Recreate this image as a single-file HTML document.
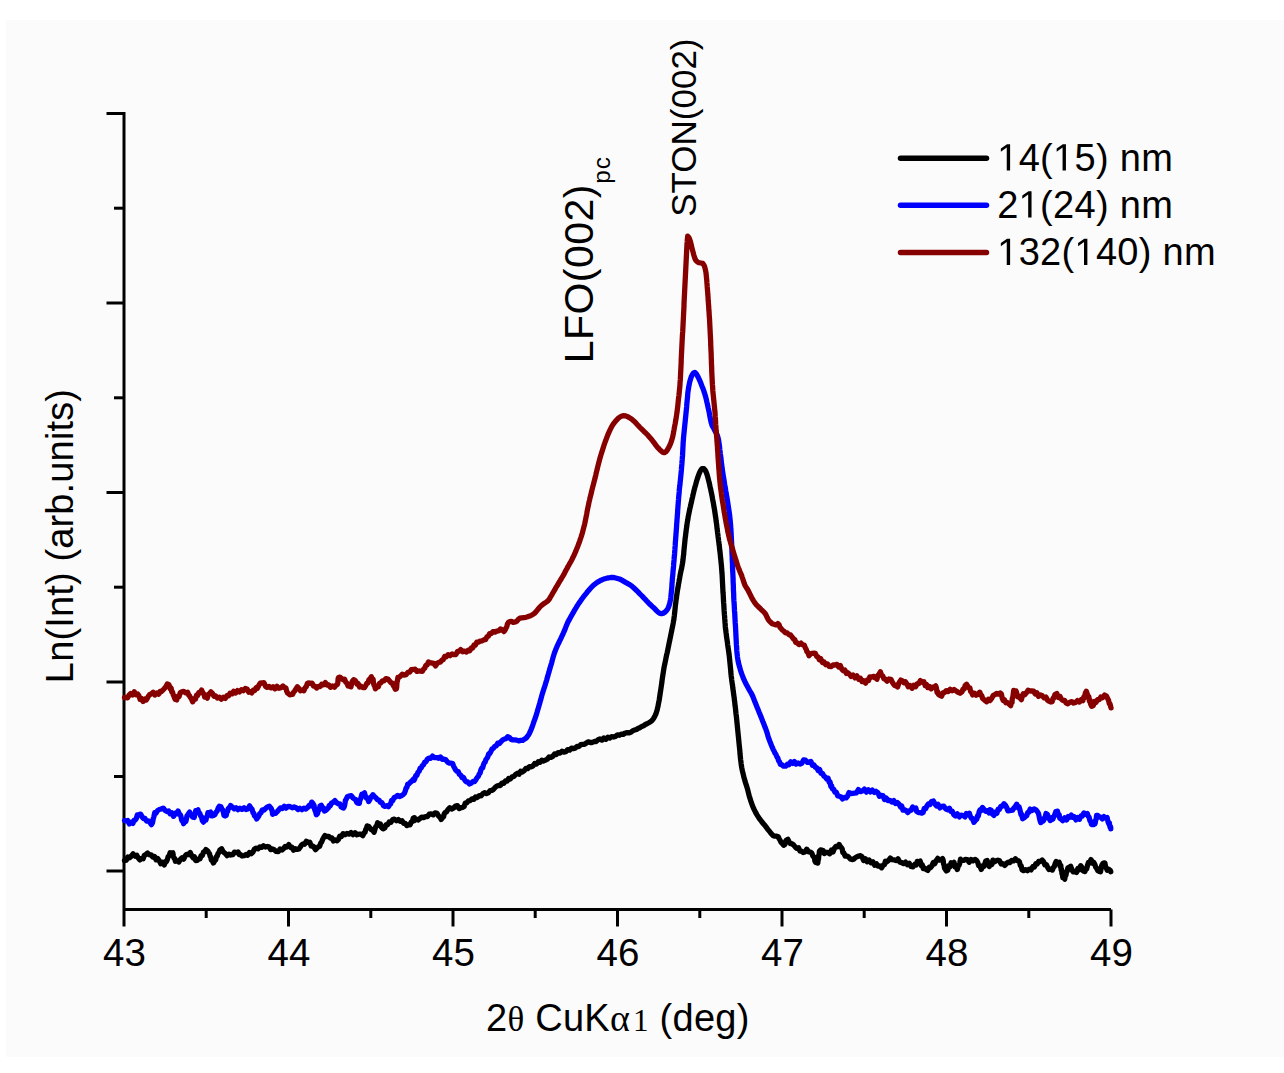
<!DOCTYPE html>
<html><head><meta charset="utf-8"><style>
html,body{margin:0;padding:0;background:#fff;}
svg{display:block;}
text{font-family:"Liberation Sans", sans-serif;fill:#000;}
.serif{font-family:"Liberation Serif", serif;}
</style></head><body>
<svg width="1284" height="1073" viewBox="0 0 1284 1073">
<rect width="1284" height="1073" fill="#fff"/>
<rect x="6" y="20" width="1278" height="1037" fill="#fcfbfb"/>
<g stroke="#000" stroke-width="3" fill="none" stroke-linecap="butt">
<path d="M124,112 L124,926.5 M124,909.5 L1111,909.5" stroke-linejoin="miter"/>
<line x1="106.5" y1="113.5" x2="124.0" y2="113.5" />
<line x1="114" y1="208.2" x2="124.0" y2="208.2" />
<line x1="106.5" y1="303.0" x2="124.0" y2="303.0" />
<line x1="114" y1="397.8" x2="124.0" y2="397.8" />
<line x1="106.5" y1="492.5" x2="124.0" y2="492.5" />
<line x1="114" y1="587.2" x2="124.0" y2="587.2" />
<line x1="106.5" y1="682.0" x2="124.0" y2="682.0" />
<line x1="114" y1="776.5" x2="124.0" y2="776.5" />
<line x1="106.5" y1="871.0" x2="124.0" y2="871.0" />
<line x1="206.2" y1="909.5" x2="206.2" y2="918" />
<line x1="288.5" y1="909.5" x2="288.5" y2="926.5" />
<line x1="370.8" y1="909.5" x2="370.8" y2="918" />
<line x1="453.0" y1="909.5" x2="453.0" y2="926.5" />
<line x1="535.2" y1="909.5" x2="535.2" y2="918" />
<line x1="617.5" y1="909.5" x2="617.5" y2="926.5" />
<line x1="699.8" y1="909.5" x2="699.8" y2="918" />
<line x1="782.0" y1="909.5" x2="782.0" y2="926.5" />
<line x1="864.2" y1="909.5" x2="864.2" y2="918" />
<line x1="946.5" y1="909.5" x2="946.5" y2="926.5" />
<line x1="1028.8" y1="909.5" x2="1028.8" y2="918" />
<line x1="1111.0" y1="909.5" x2="1111.0" y2="926.5" />
</g>
<g font-size="38.5">
<text x="124.5" y="965.5" text-anchor="middle">43</text>
<text x="289.0" y="965.5" text-anchor="middle">44</text>
<text x="453.5" y="965.5" text-anchor="middle">45</text>
<text x="618.0" y="965.5" text-anchor="middle">46</text>
<text x="782.5" y="965.5" text-anchor="middle">47</text>
<text x="947.0" y="965.5" text-anchor="middle">48</text>
<text x="1111.5" y="965.5" text-anchor="middle">49</text>
</g>
<text x="486" y="1031" font-size="38" letter-spacing="0.25">2<tspan class="serif" font-size="35">θ</tspan> CuK<tspan class="serif">α</tspan><tspan class="serif" font-size="31" dx="3">1</tspan> (deg)</text>
<text transform="translate(72.5,536) rotate(-90)" font-size="38" text-anchor="middle" letter-spacing="0.15">Ln(Int) (arb.units)</text>
<text transform="translate(593,363.3) rotate(-90)" font-size="41" letter-spacing="0.45">LFO(002)<tspan font-size="24.5" dy="17" dx="0.5" letter-spacing="0.8">pc</tspan></text>
<text transform="translate(696.3,216.8) rotate(-90)" font-size="35">STON(002)</text>
<g fill="none" stroke-width="5.3" stroke-linejoin="round" stroke-linecap="round">
<path d="M124.5,860.6 126.2,860.2 127.8,857.0 129.5,857.8 131.2,856.2 133.1,853.8 135.0,856.2 136.7,855.2 138.2,857.9 139.8,859.9 141.7,858.3 143.2,858.7 144.4,855.2 145.8,854.6 147.6,853.0 149.5,854.9 151.2,854.8 152.9,857.1 154.5,856.4 156.1,859.8 157.7,858.6 159.3,860.8 160.8,863.7 162.4,862.4 164.3,864.9 165.6,861.5 166.5,861.6 167.4,859.4 168.2,856.4 169.1,856.1 170.1,852.7 171.5,853.1 172.8,852.7 173.4,856.2 174.0,858.1 174.6,858.3 175.4,861.3 177.0,860.6 178.9,862.0 180.5,859.3 182.1,857.8 183.7,859.1 185.3,855.7 186.8,854.3 188.4,854.7 190.3,852.5 191.9,856.1 193.2,857.8 194.4,856.9 195.6,860.5 197.3,860.3 198.9,858.8 200.0,858.9 201.1,855.6 202.3,855.6 203.5,852.1 204.6,851.8 205.9,849.5 207.7,851.0 208.7,852.6 209.5,853.8 210.1,856.2 210.7,856.8 211.3,860.1 212.1,860.4 213.4,863.0 214.8,860.7 215.7,859.8 216.5,856.4 217.2,856.3 218.0,853.5 218.8,852.7 219.9,849.9 221.6,848.8 223.1,851.8 224.3,852.8 225.5,853.6 227.1,855.7 229.0,854.2 230.9,855.0 232.7,854.7 234.4,852.1 236.3,852.7 238.1,852.0 239.3,854.5 240.4,854.5 242.1,856.0 244.1,855.7 246.0,854.5 247.8,855.2 249.5,852.5 251.2,853.7 252.8,852.3 254.4,849.1 256.1,848.2 257.9,848.9 259.7,846.9 261.5,847.3 263.4,845.8 265.4,847.0 267.3,846.5 269.0,846.9 270.7,849.6 272.2,848.8 274.2,849.7 276.2,851.4 278.2,851.7 280.2,848.9 282.0,850.0 283.6,848.5 285.2,846.5 286.9,847.0 288.8,844.5 290.6,847.5 292.0,847.1 293.5,850.2 295.3,848.7 297.2,849.4 298.9,849.0 300.3,847.0 301.7,844.8 303.1,843.8 304.6,844.2 306.3,841.3 308.2,842.6 309.8,842.2 311.2,846.1 312.5,845.9 313.8,846.8 315.5,849.7 317.3,847.8 318.6,846.5 319.7,846.3 320.7,843.0 321.6,842.1 322.6,839.5 323.7,837.5 325.0,835.5 326.8,836.5 328.7,836.3 330.3,838.1 331.8,837.8 333.5,841.0 335.4,840.0 337.1,840.8 338.4,839.4 339.7,836.2 341.3,836.6 343.1,833.7 345.0,834.7 347.0,833.4 349.0,834.1 351.0,832.5 353.0,834.6 355.0,832.7 357.0,834.8 358.9,834.2 360.8,834.1 362.8,835.6 364.2,832.8 365.0,832.3 365.7,829.5 366.3,828.8 367.2,825.9 368.8,826.5 370.1,828.2 371.2,829.6 372.4,829.7 374.1,832.2 375.2,828.4 375.9,826.5 376.7,826.0 377.6,822.8 379.2,824.6 380.4,824.0 381.5,827.3 383.1,828.9 384.8,828.0 386.2,824.6 387.6,824.8 389.2,822.0 390.9,822.3 392.6,819.6 394.4,819.2 396.4,820.8 398.4,819.5 400.2,821.3 402.0,820.8 403.8,823.4 405.3,823.4 406.8,825.6 408.7,824.6 410.1,824.8 411.2,822.1 412.3,821.6 413.2,818.2 414.2,818.2 414.3,817.7 414.2,820.6 416.1,819.0 418.0,820.0 419.8,818.7 421.7,817.2 423.6,817.6 425.5,816.6 427.4,816.6 429.3,814.2 431.2,813.9 433.2,814.9 435.1,812.8 437.0,813.3 438.5,816.1 439.8,816.8 441.2,819.5 442.9,817.2 443.6,816.7 444.2,813.9 445.1,812.7 446.4,812.0 448.1,809.4 449.8,807.8 451.6,809.0 453.5,808.1 455.4,806.1 457.4,805.7 459.2,808.6 461.1,807.6 462.8,807.3 464.1,806.5 465.3,803.1 466.8,802.8 468.4,800.9 470.1,800.6 471.9,798.9 473.8,799.4 475.6,796.9 477.4,797.5 479.2,795.7 481.1,795.8 482.9,793.6 484.7,792.7 486.5,793.6 488.3,792.9 490.1,790.6 491.8,790.4 493.5,789.4 495.2,787.3 496.9,786.0 498.6,785.5 500.3,785.5 502.0,783.1 503.7,783.4 505.4,781.0 507.1,781.0 508.7,778.5 510.4,779.0 512.1,776.8 513.8,776.5 515.6,774.5 517.3,773.3 519.0,774.3 520.7,771.3 522.4,772.0 524.2,770.6 525.9,768.4 527.6,768.7 529.4,766.6 531.1,766.8 532.9,766.0 534.7,763.4 536.4,764.1 538.2,761.8 540.0,762.4 541.8,760.1 543.7,761.0 545.5,760.1 547.3,759.2 549.1,757.0 550.9,757.4 552.7,756.4 554.5,754.0 556.3,754.6 558.1,752.6 560.0,753.1 562.0,751.3 563.9,752.1 565.8,751.7 567.7,749.6 569.6,750.1 571.5,748.1 573.4,748.6 575.2,748.2 577.1,746.3 579.0,746.5 580.8,744.7 582.7,744.3 584.5,744.3 586.4,743.0 588.3,741.8 590.3,742.5 592.2,742.5 594.2,741.5 596.1,741.5 598.1,739.8 600.0,739.0 601.9,740.1 603.9,737.9 605.8,739.3 607.8,737.3 609.7,738.1 611.6,736.7 613.6,737.0 615.5,736.4 617.5,734.8 619.4,735.3 621.4,734.1 623.3,734.4 625.2,733.0 627.1,732.7 629.0,732.9 630.9,732.3 632.8,730.7 634.6,730.1 636.5,729.5 638.3,728.3 640.0,727.7 641.8,726.4 643.5,725.8 645.3,724.5 647.0,723.8 648.8,722.8 650.5,721.8 652.0,720.5 653.3,718.9 654.3,717.2 655.2,715.4 656.0,713.6 656.6,711.7 657.2,709.7 657.6,707.8 658.1,705.8 658.4,703.9 658.8,701.9 659.2,700.0 659.5,698.0 659.8,696.0 660.1,694.0 660.4,692.0 660.7,690.1 661.0,688.1 661.3,686.1 661.6,684.1 661.9,682.2 662.1,680.2 662.4,678.2 662.7,676.2 663.0,674.2 663.3,672.3 663.6,670.3 663.9,668.3 664.3,666.3 664.7,664.4 665.1,662.4 665.5,660.5 665.9,658.5 666.3,656.5 666.7,654.6 667.2,652.6 667.6,650.7 668.0,648.7 668.4,646.8 668.8,644.8 669.2,642.8 669.6,640.9 670.0,638.9 670.4,637.0 670.8,635.0 671.2,633.0 671.6,631.1 672.0,629.1 672.4,627.2 672.8,625.2 673.2,623.2 673.5,621.3 673.9,619.3 674.1,617.3 674.4,615.3 674.6,613.3 674.8,611.4 675.0,609.4 675.2,607.4 675.4,605.4 675.7,603.4 675.9,601.4 676.2,599.4 676.5,597.5 676.7,595.5 677.0,593.5 677.3,591.5 677.6,589.5 678.0,587.6 678.3,585.6 678.6,583.6 679.0,581.7 679.3,579.7 679.7,577.7 680.0,575.8 680.4,573.8 680.8,571.8 681.2,569.9 681.7,567.9 682.0,566.0 682.4,564.0 682.7,562.0 683.0,560.0 683.2,558.0 683.4,556.1 683.7,554.1 683.8,552.1 684.0,550.1 684.2,548.1 684.4,546.1 684.6,544.1 684.8,542.1 685.0,540.1 685.2,538.1 685.5,536.2 685.7,534.2 686.0,532.2 686.2,530.2 686.5,528.2 686.8,526.2 687.0,524.3 687.3,522.3 687.7,520.3 688.0,518.3 688.3,516.4 688.7,514.4 689.1,512.4 689.5,510.5 689.9,508.5 690.4,506.6 690.8,504.6 691.3,502.7 691.7,500.7 692.1,498.8 692.6,496.8 693.0,494.9 693.5,492.9 693.9,491.0 694.4,489.1 694.9,487.1 695.5,485.2 696.0,483.3 696.6,481.3 697.1,479.4 697.8,477.5 698.4,475.6 699.1,473.8 699.9,471.9 700.8,470.1 702.0,468.6 703.9,468.7 705.2,470.2 706.1,472.0 706.8,473.9 707.4,475.8 707.9,477.7 708.4,479.7 708.9,481.6 709.4,483.5 709.8,485.5 710.2,487.4 710.7,489.4 711.1,491.4 711.5,493.3 711.9,495.3 712.3,497.2 712.6,499.2 713.0,501.2 713.4,503.1 713.7,505.1 714.0,507.1 714.4,509.1 714.7,511.0 715.0,513.0 715.3,515.0 715.6,517.0 715.9,518.9 716.1,520.9 716.4,522.9 716.7,524.9 716.9,526.9 717.1,528.9 717.4,530.8 717.6,532.8 717.9,534.8 718.1,536.8 718.4,538.8 718.6,540.8 718.9,542.7 719.1,544.7 719.4,546.7 719.6,548.7 719.8,550.7 720.1,552.7 720.3,554.7 720.5,556.7 720.7,558.6 720.9,560.6 721.1,562.6 721.3,564.6 721.5,566.6 721.6,568.6 721.8,570.6 721.9,572.6 722.1,574.6 722.2,576.6 722.3,578.6 722.4,580.6 722.5,582.6 722.6,584.6 722.7,586.6 722.8,588.6 722.9,590.6 723.0,592.6 723.2,594.6 723.3,596.6 723.4,598.5 723.5,600.5 723.6,602.5 723.8,604.5 723.9,606.5 724.0,608.5 724.1,610.5 724.3,612.5 724.4,614.5 724.6,616.5 724.7,618.5 724.9,620.5 725.0,622.5 725.2,624.5 725.3,626.5 725.5,628.5 725.8,630.5 726.0,632.4 726.3,634.4 726.5,636.4 726.8,638.4 727.1,640.4 727.4,642.3 727.6,644.3 727.9,646.3 728.2,648.3 728.5,650.3 728.8,652.3 729.0,654.2 729.3,656.2 729.5,658.2 729.7,660.2 729.9,662.2 730.1,664.2 730.3,666.2 730.5,668.2 730.7,670.1 730.8,672.1 731.0,674.1 731.2,676.1 731.5,678.1 731.7,680.1 732.0,682.1 732.3,684.1 732.6,686.0 732.8,688.0 733.1,690.0 733.4,692.0 733.6,694.0 733.9,695.9 734.2,697.9 734.4,699.9 734.7,701.9 734.9,703.9 735.1,705.9 735.4,707.9 735.6,709.8 735.8,711.8 736.0,713.8 736.3,715.8 736.5,717.8 736.7,719.8 736.9,721.8 737.1,723.8 737.3,725.7 737.5,727.7 737.7,729.7 737.9,731.7 738.1,733.7 738.3,735.7 738.5,737.7 738.7,739.7 738.9,741.7 739.1,743.7 739.3,745.7 739.5,747.6 739.7,749.6 739.9,751.6 740.0,753.6 740.2,755.6 740.4,757.6 740.6,759.6 740.9,761.6 741.1,763.6 741.4,765.5 741.7,767.5 742.1,769.5 742.5,771.4 743.0,773.4 743.5,775.3 743.9,777.3 744.5,779.2 745.0,781.1 745.6,783.0 746.2,784.9 746.8,786.8 747.4,788.7 747.9,790.7 748.4,792.6 748.9,794.6 749.4,796.5 750.0,798.4 750.6,800.3 751.2,802.2 751.9,804.1 752.6,806.0 753.4,807.8 754.2,809.6 755.1,811.4 756.0,813.2 757.0,814.9 758.1,816.6 759.2,818.3 760.4,819.9 761.6,821.5 762.8,823.0 764.1,824.6 765.4,826.1 766.6,827.7 767.8,829.3 769.1,830.9 770.3,832.4 771.6,833.9 773.0,835.5 774.8,836.2 776.7,836.2 778.2,836.8 779.3,839.0 780.2,840.5 781.2,842.5 782.3,843.6 783.7,845.2 784.8,844.5 785.5,841.7 786.2,840.3 787.9,839.3 789.2,842.0 790.4,843.6 791.8,843.7 793.4,844.8 795.2,846.9 796.9,848.4 798.6,847.8 799.9,851.0 801.2,851.0 803.1,852.5 804.9,851.9 806.7,849.2 808.7,851.9 810.5,852.1 811.9,853.3 812.9,856.0 813.6,856.9 814.3,857.0 814.9,861.0 815.7,862.5 816.8,862.8 817.8,863.1 818.2,858.9 818.5,859.3 818.8,855.0 819.1,854.7 819.4,851.1 819.7,850.9 820.5,850.0 822.1,850.2 823.1,850.5 824.3,853.5 825.9,852.5 827.8,852.5 829.7,853.8 831.4,850.1 833.0,851.9 834.5,848.2 835.9,846.4 837.4,846.9 839.1,844.5 840.7,847.1 841.5,847.8 842.2,848.9 842.8,852.6 843.8,852.9 845.2,856.1 846.7,855.9 848.4,856.8 850.2,858.9 852.1,859.6 853.8,859.2 855.3,857.7 856.9,856.8 858.8,856.1 860.5,855.7 862.0,856.7 863.6,860.5 865.3,858.7 867.2,861.8 869.1,860.1 871.0,862.8 872.9,861.8 874.7,865.2 876.5,863.9 878.1,866.2 879.8,865.8 881.7,867.8 883.3,865.0 884.4,864.9 885.4,861.3 886.7,861.8 888.4,860.6 890.3,858.1 892.2,859.7 894.2,859.9 896.2,860.6 898.0,858.8 899.9,862.2 901.7,862.6 903.6,863.6 905.5,862.1 907.4,864.7 909.2,863.2 911.0,866.5 912.9,866.8 914.8,864.3 916.2,864.9 917.2,861.4 918.7,861.9 920.2,861.0 921.3,865.7 922.3,864.9 923.3,868.6 924.4,867.9 926.0,869.5 927.8,870.4 929.2,867.3 930.5,867.8 931.9,865.9 933.4,862.4 934.8,863.7 936.3,860.4 937.7,858.4 939.3,860.1 941.2,859.5 942.5,858.5 943.2,860.5 943.6,864.2 944.0,864.3 944.5,868.0 945.0,868.8 946.3,870.9 947.8,870.1 948.9,865.8 950.0,866.7 951.1,862.8 952.4,863.9 954.0,862.3 954.9,866.8 955.8,866.6 957.3,869.5 958.3,865.9 959.0,865.3 959.7,863.3 960.5,859.2 961.8,860.3 963.7,860.3 965.5,859.4 967.3,859.6 969.2,862.3 971.1,859.5 973.0,860.8 975.0,859.4 976.4,860.2 977.6,862.1 978.7,865.7 979.9,865.9 981.3,869.4 982.9,865.8 983.9,866.3 984.7,864.2 985.7,861.0 987.2,860.5 988.2,864.8 989.2,866.5 990.9,863.9 991.9,864.4 992.9,860.2 994.2,861.8 996.1,860.8 997.9,860.1 999.5,860.8 1001.2,864.0 1002.8,863.6 1004.7,865.5 1006.6,863.2 1008.2,862.1 1009.9,862.6 1011.7,860.5 1013.5,860.9 1015.4,858.8 1017.3,860.7 1018.6,860.9 1019.5,862.0 1020.3,865.4 1021.1,865.7 1022.1,870.0 1023.5,870.7 1025.4,869.7 1027.4,870.7 1029.3,869.1 1031.1,869.9 1032.8,866.6 1034.4,867.1 1035.8,863.7 1037.2,864.0 1038.6,861.5 1040.2,861.5 1042.1,860.0 1043.6,861.7 1044.9,864.9 1046.4,864.6 1047.7,867.5 1049.0,869.5 1050.5,869.2 1052.3,870.1 1053.5,867.3 1054.3,866.6 1055.2,863.6 1056.1,861.5 1057.8,863.1 1059.2,862.3 1060.1,866.5 1060.8,865.5 1061.2,870.2 1061.6,869.4 1062.0,874.0 1062.3,873.7 1062.8,877.7 1063.4,877.1 1064.7,879.2 1065.4,875.3 1066.0,875.0 1066.6,871.4 1067.2,871.2 1067.9,867.7 1069.0,867.4 1070.7,866.3 1072.0,870.0 1073.2,871.9 1074.7,871.5 1076.5,872.5 1077.9,868.4 1079.2,869.8 1080.7,865.7 1082.0,867.3 1082.6,869.4 1083.4,871.0 1084.9,871.6 1085.8,868.7 1086.7,868.9 1087.5,865.4 1088.4,862.5 1089.5,863.1 1091.0,859.6 1092.6,863.2 1093.8,862.6 1094.8,864.4 1095.8,867.3 1096.7,868.3 1097.8,870.7 1099.2,871.4 1100.5,871.8 1101.2,868.2 1101.7,865.5 1102.1,866.4 1102.7,863.7 1103.9,862.8 1104.9,863.1 1105.7,867.0 1106.4,868.3 1107.2,870.2 1108.6,869.2 1110.5,870.6 1110.8,871.8" stroke="#000"/>
<path d="M124.5,820.6 126.1,820.8 127.6,820.5 129.3,823.9 131.2,822.3 132.9,823.4 134.1,820.1 135.1,820.3 136.2,818.8 137.3,815.0 138.8,814.8 140.7,814.1 142.1,817.0 143.5,818.6 145.0,818.5 146.5,821.0 148.0,820.8 149.6,821.9 151.5,824.6 152.5,822.7 152.9,820.8 153.3,818.4 153.8,817.1 154.7,812.8 156.0,813.3 157.6,810.5 159.4,809.5 161.2,809.0 163.2,808.1 165.2,810.4 167.0,811.5 168.6,811.0 170.1,813.8 171.7,812.7 173.5,816.3 175.3,813.2 176.5,813.8 178.1,811.1 179.4,814.2 180.2,814.6 180.9,816.3 181.7,820.3 182.5,819.7 183.5,823.7 185.0,821.7 185.8,821.4 186.4,819.3 187.0,815.8 187.5,815.6 188.2,814.0 189.7,812.0 190.8,814.4 191.7,815.4 192.7,817.2 194.2,817.5 194.7,814.2 195.2,813.8 195.7,810.7 196.5,811.0 198.0,809.9 198.9,812.9 199.8,813.4 200.6,815.9 201.4,816.4 202.3,820.5 203.4,822.1 205.0,820.2 205.9,820.2 206.6,816.9 207.2,816.6 207.9,812.7 209.2,813.0 210.6,812.1 211.8,815.9 213.6,815.4 214.9,814.6 216.0,812.2 217.1,811.2 218.1,808.3 219.4,806.3 221.0,806.8 222.0,809.5 222.7,810.0 223.3,811.8 224.0,815.4 225.1,816.0 226.2,815.4 226.9,811.9 227.6,811.4 228.2,808.6 229.1,808.1 230.6,805.6 232.5,807.2 234.2,808.9 236.1,807.8 238.0,809.7 240.0,808.2 242.0,809.4 244.0,807.8 246.0,809.5 247.9,808.9 249.6,805.8 251.1,808.3 252.1,809.4 253.0,812.7 253.7,813.1 254.5,815.9 255.4,816.5 256.7,818.9 258.2,816.9 259.0,815.4 259.8,813.5 260.9,812.9 262.3,809.9 264.0,810.1 265.7,808.3 267.5,806.9 269.3,806.1 271.2,808.4 271.8,810.3 272.2,810.7 272.6,814.3 274.3,812.7 275.7,813.3 277.1,811.8 278.6,810.0 280.4,807.9 282.3,808.6 284.3,806.2 286.2,808.1 288.2,806.3 290.2,806.7 292.2,807.8 294.1,806.9 296.0,807.7 298.0,809.6 299.9,808.3 301.9,809.7 303.9,808.2 305.8,809.1 307.6,807.5 309.4,805.3 310.8,805.9 311.7,802.1 313.0,803.5 313.7,805.0 314.1,805.5 314.5,808.9 315.0,810.5 315.5,811.3 316.3,814.7 317.6,813.5 318.4,809.6 319.2,809.9 320.0,806.1 321.3,805.3 322.6,807.8 323.4,807.9 324.4,811.0 326.0,810.3 327.3,808.9 328.4,807.8 329.3,805.4 330.3,805.7 331.4,803.2 332.9,802.5 334.9,800.6 336.7,802.7 338.3,803.8 339.9,804.0 341.1,807.0 342.1,807.5 343.5,808.0 344.1,807.1 344.6,805.3 345.0,803.2 345.5,800.0 346.1,799.4 347.3,796.8 349.2,796.1 351.2,795.6 353.1,798.0 354.7,799.3 355.7,799.6 356.7,802.4 357.9,803.1 359.3,803.4 360.0,799.7 360.6,799.1 361.2,797.1 361.9,794.1 362.9,794.1 364.5,792.9 365.5,796.4 366.5,798.2 367.5,798.1 368.6,801.5 370.0,799.3 370.7,797.2 371.4,796.8 372.9,794.7 374.6,796.8 376.1,798.1 377.5,799.7 378.9,800.0 380.4,802.4 381.9,802.6 383.4,805.6 384.9,806.4 386.7,805.7 388.5,806.7 389.8,804.5 390.7,803.7 391.6,800.4 392.7,800.6 394.1,797.7 395.8,796.8 397.6,795.4 399.5,796.5 401.3,795.8 403.0,794.8 404.4,793.3 405.3,791.1 406.1,788.0 406.9,787.5 407.7,784.1 408.7,784.1 410.2,782.4 411.8,781.1 413.4,779.1 414.0,780.3 414.8,778.7 415.9,775.4 416.9,775.3 418.0,772.2 419.1,771.3 420.1,768.3 421.2,768.0 422.3,765.6 423.5,764.8 424.6,762.3 425.9,761.9 427.3,759.2 428.8,758.2 430.6,758.4 432.5,756.1 434.5,757.6 436.5,757.6 438.5,758.3 440.4,757.0 442.3,759.3 444.1,759.1 445.8,759.8 447.6,762.1 449.5,763.2 451.4,763.2 452.6,763.5 453.6,766.2 454.6,768.0 455.7,770.1 456.9,771.2 458.2,771.6 459.4,774.3 460.8,775.2 462.1,777.7 463.5,777.5 464.8,780.2 466.2,781.8 467.7,782.0 469.5,784.1 471.5,782.9 473.1,781.3 474.6,781.6 475.9,779.7 477.2,777.5 478.3,776.4 479.2,774.1 480.1,773.0 480.9,769.8 481.7,768.1 482.6,768.0 483.4,765.0 484.3,762.8 485.1,762.1 486.0,759.3 486.8,758.5 487.7,757.1 488.7,753.9 489.7,753.6 490.9,751.5 492.1,748.9 493.4,748.3 494.8,746.3 496.2,745.9 497.8,743.2 499.4,743.5 501.1,741.5 502.8,739.9 504.5,739.0 506.1,738.6 507.7,736.7 509.6,737.6 511.0,739.4 512.8,739.9 514.8,739.9 516.7,740.1 518.7,740.9 520.7,740.4 522.7,740.4 524.4,739.1 526.0,738.2 527.4,736.5 528.5,735.0 529.5,733.2 530.3,731.4 531.1,729.5 531.8,727.7 532.5,725.8 533.2,723.9 533.8,722.0 534.5,720.1 535.2,718.3 535.8,716.4 536.4,714.4 537.0,712.5 537.5,710.6 538.1,708.7 538.7,706.8 539.2,704.9 539.8,702.9 540.3,701.0 540.9,699.1 541.4,697.2 541.9,695.2 542.5,693.3 543.1,691.4 543.7,689.5 544.3,687.6 545.0,685.7 545.5,683.8 546.1,681.9 546.7,680.0 547.2,678.0 547.8,676.1 548.3,674.2 548.9,672.3 549.4,670.3 550.0,668.4 550.5,666.5 551.1,664.6 551.7,662.7 552.2,660.7 552.7,658.8 553.2,656.9 553.8,654.9 554.4,653.0 555.1,651.2 555.8,649.3 556.6,647.5 557.4,645.6 558.3,643.8 559.2,642.0 560.0,640.2 560.9,638.4 561.7,636.6 562.6,634.8 563.4,633.0 564.2,631.1 565.0,629.3 565.7,627.4 566.4,625.6 567.2,623.7 568.0,621.9 569.0,620.1 569.9,618.4 570.9,616.6 571.9,614.9 572.9,613.2 573.9,611.4 574.9,609.7 575.9,608.0 576.9,606.3 578.0,604.6 579.1,602.9 580.3,601.3 581.4,599.6 582.6,598.0 583.8,596.4 585.0,594.9 586.3,593.3 587.5,591.7 588.8,590.2 590.1,588.7 591.5,587.2 592.9,585.8 594.4,584.5 596.0,583.2 597.6,582.1 599.4,581.1 601.1,580.2 603.0,579.4 604.8,578.7 606.8,578.2 608.7,577.8 610.7,577.5 612.7,577.5 614.7,577.7 616.6,578.2 618.5,578.8 620.4,579.4 622.2,580.4 623.9,581.4 625.6,582.4 627.4,583.4 629.1,584.3 630.8,585.4 632.4,586.6 633.9,588.0 635.3,589.3 636.8,590.7 638.2,592.1 639.6,593.6 641.0,595.0 642.4,596.4 643.8,597.9 645.2,599.3 646.5,600.8 647.9,602.2 649.3,603.7 650.7,605.0 652.2,606.4 653.7,607.7 655.1,609.1 656.5,610.6 657.9,612.0 659.5,613.2 661.4,613.7 663.3,613.1 665.0,612.1 666.4,610.7 667.6,609.0 668.5,607.3 669.1,605.4 669.7,603.4 670.1,601.5 670.5,599.5 670.8,597.6 671.0,595.6 671.2,593.6 671.4,591.6 671.6,589.6 671.8,587.6 671.9,585.6 672.0,583.6 672.2,581.6 672.3,579.6 672.5,577.6 672.7,575.6 672.9,573.6 673.0,571.7 673.2,569.7 673.4,567.7 673.6,565.7 673.7,563.7 673.9,561.7 674.1,559.7 674.2,557.7 674.4,555.7 674.6,553.7 674.7,551.7 674.9,549.7 675.0,547.7 675.2,545.7 675.3,543.7 675.4,541.8 675.6,539.8 675.7,537.8 675.9,535.8 676.0,533.8 676.2,531.8 676.3,529.8 676.5,527.8 676.6,525.8 676.7,523.8 676.9,521.8 677.0,519.8 677.2,517.8 677.3,515.8 677.5,513.8 677.6,511.8 677.7,509.8 677.9,507.8 678.0,505.8 678.2,503.9 678.3,501.9 678.5,499.9 678.6,497.9 678.8,495.9 679.0,493.9 679.2,491.9 679.3,489.9 679.5,487.9 679.8,485.9 680.0,483.9 680.2,481.9 680.4,480.0 680.6,478.0 680.8,476.0 681.0,474.0 681.2,472.0 681.4,470.0 681.5,468.0 681.7,466.0 681.9,464.0 682.0,462.0 682.2,460.0 682.3,458.0 682.5,456.0 682.6,454.0 682.7,452.1 682.8,450.1 682.9,448.1 683.0,446.1 683.1,444.1 683.2,442.1 683.4,440.1 683.5,438.1 683.7,436.1 683.9,434.1 684.1,432.1 684.3,430.1 684.5,428.1 684.7,426.1 684.9,424.1 685.1,422.2 685.3,420.2 685.5,418.2 685.7,416.2 685.9,414.2 686.1,412.2 686.3,410.2 686.5,408.2 686.7,406.2 686.8,404.2 687.0,402.2 687.2,400.3 687.4,398.3 687.6,396.3 687.7,394.3 687.9,392.3 688.2,390.3 688.5,388.3 688.8,386.4 689.2,384.4 689.6,382.4 690.1,380.5 690.7,378.6 691.3,376.7 692.2,374.9 693.3,373.2 694.9,372.4 696.3,373.8 697.3,375.5 698.2,377.3 699.1,379.1 699.9,380.9 700.7,382.8 701.4,384.6 702.1,386.5 702.9,388.3 703.6,390.2 704.2,392.1 704.8,394.0 705.4,395.9 705.9,397.9 706.4,399.8 706.8,401.8 707.3,403.7 707.7,405.6 708.1,407.6 708.6,409.6 709.0,411.5 709.4,413.5 709.7,415.4 710.1,417.4 710.5,419.4 710.9,421.3 711.4,423.3 712.0,425.2 712.9,427.0 713.9,428.7 714.8,430.5 715.7,432.2 716.7,434.0 717.5,435.8 718.0,437.7 718.5,439.7 718.8,441.7 719.1,443.6 719.4,445.6 719.6,447.6 719.8,449.6 720.1,451.6 720.3,453.6 720.6,455.6 720.8,457.5 721.1,459.5 721.3,461.5 721.5,463.5 721.8,465.5 722.0,467.5 722.3,469.4 722.6,471.4 722.9,473.4 723.2,475.4 723.5,477.4 723.9,479.3 724.2,481.3 724.5,483.3 724.8,485.2 725.2,487.2 725.5,489.2 725.8,491.2 726.2,493.1 726.5,495.1 726.8,497.1 727.2,499.1 727.5,501.0 727.8,503.0 728.1,505.0 728.4,507.0 728.7,508.9 729.0,510.9 729.3,512.9 729.6,514.9 729.8,516.9 730.0,518.8 730.2,520.8 730.4,522.8 730.6,524.8 730.7,526.8 730.8,528.8 731.0,530.8 731.1,532.8 731.2,534.8 731.3,536.8 731.4,538.8 731.5,540.8 731.6,542.8 731.7,544.8 731.8,546.8 731.9,548.8 731.9,550.8 732.0,552.8 732.1,554.8 732.2,556.8 732.2,558.8 732.3,560.8 732.4,562.8 732.5,564.8 732.5,566.8 732.6,568.8 732.7,570.8 732.8,572.8 732.9,574.8 733.0,576.8 733.1,578.8 733.1,580.8 733.2,582.8 733.3,584.8 733.4,586.8 733.4,588.8 733.5,590.8 733.6,592.8 733.7,594.7 733.7,596.7 733.8,598.7 733.9,600.7 734.1,602.7 734.2,604.7 734.3,606.7 734.4,608.7 734.5,610.7 734.7,612.7 734.8,614.7 734.9,616.7 735.0,618.7 735.1,620.7 735.2,622.7 735.4,624.7 735.5,626.7 735.6,628.7 735.7,630.7 735.8,632.7 735.9,634.7 736.0,636.7 736.1,638.7 736.2,640.7 736.3,642.7 736.4,644.7 736.6,646.7 736.7,648.7 736.8,650.7 737.0,652.7 737.2,654.6 737.4,656.6 737.7,658.6 738.0,660.6 738.4,662.5 738.9,664.5 739.4,666.4 740.0,668.3 740.5,670.3 741.1,672.2 741.8,674.1 742.5,675.9 743.2,677.8 744.0,679.6 744.8,681.4 745.7,683.2 746.6,685.0 747.6,686.8 748.5,688.5 749.5,690.3 750.5,692.0 751.5,693.7 752.4,695.5 753.2,697.4 753.9,699.2 754.6,701.1 755.4,703.0 756.1,704.8 756.8,706.7 757.6,708.5 758.4,710.4 759.1,712.2 759.9,714.1 760.6,715.9 761.4,717.8 762.1,719.7 762.8,721.5 763.6,723.4 764.3,725.2 765.0,727.1 765.8,729.0 766.4,730.8 767.1,732.8 767.6,734.7 768.1,736.6 768.8,738.5 769.5,740.4 770.2,742.3 770.9,744.0 771.7,746.1 772.5,747.7 773.3,749.7 774.2,751.3 775.1,753.3 776.0,754.6 776.9,756.9 777.8,758.0 778.6,760.9 779.4,761.5 780.3,764.3 781.7,764.6 783.6,766.2 785.6,766.2 787.4,764.2 789.0,764.8 790.7,761.7 792.6,763.4 794.4,761.6 796.2,764.1 798.1,762.9 800.0,764.1 801.8,763.3 803.6,759.9 805.5,760.2 807.5,762.4 809.3,762.2 810.9,761.4 812.4,765.4 813.9,764.9 815.4,767.2 816.8,767.7 818.2,770.5 819.6,769.5 821.0,773.4 822.5,773.3 823.9,776.2 825.4,777.0 826.8,779.2 828.1,778.3 829.2,782.2 830.1,782.0 830.8,786.2 831.5,785.5 832.5,789.1 833.6,789.2 834.9,792.1 836.3,792.1 837.7,795.7 839.2,796.3 840.8,796.7 842.5,798.9 844.5,797.3 846.1,797.9 847.5,796.3 849.0,792.6 850.7,793.6 852.6,793.3 854.5,793.1 856.4,792.9 858.4,789.6 860.4,791.6 862.4,791.0 864.4,789.0 866.4,792.1 868.4,789.7 870.4,791.9 872.3,790.1 874.2,792.4 876.0,791.3 877.8,792.6 879.5,796.3 881.2,795.3 882.9,795.6 884.5,799.6 886.2,798.1 888.0,800.6 889.9,800.3 891.9,802.1 893.8,800.6 895.6,803.5 897.4,802.5 899.0,804.1 900.4,806.9 901.7,806.0 903.0,810.1 904.3,809.7 905.9,810.4 907.8,812.6 909.5,810.7 911.1,810.2 912.6,807.0 914.4,808.8 915.8,808.0 916.7,811.5 917.5,811.9 918.6,812.6 920.4,812.7 921.8,813.1 923.1,812.4 924.3,808.3 925.7,808.5 927.1,805.6 928.4,804.0 929.9,804.6 931.5,801.5 933.4,801.0 935.1,804.3 936.6,806.0 938.1,804.4 939.9,807.9 941.8,806.4 943.8,806.1 945.8,809.1 947.7,809.8 949.4,808.2 950.9,811.4 952.3,811.2 953.8,814.6 955.5,816.0 957.4,813.9 959.3,816.9 961.2,815.2 963.2,815.5 965.0,816.9 966.3,813.6 967.7,814.8 969.3,813.2 970.4,816.5 971.5,818.4 972.5,818.3 973.9,822.3 975.6,820.1 976.7,819.2 977.6,815.8 978.3,816.0 979.1,811.9 979.9,810.1 980.9,810.9 982.4,807.5 984.3,809.8 985.8,811.3 987.4,810.7 989.1,812.9 989.9,809.6 991.2,810.1 992.3,813.9 993.9,815.5 995.6,812.1 996.9,813.1 998.1,809.2 999.4,809.4 1000.8,806.4 1002.2,806.3 1004.0,803.7 1005.5,805.3 1006.7,807.5 1007.9,810.9 1009.4,810.6 1011.2,810.3 1012.6,810.2 1013.8,808.1 1015.0,806.9 1016.7,804.3 1018.1,807.8 1019.0,806.7 1019.7,809.0 1020.3,811.4 1021.0,814.7 1021.7,814.2 1022.6,818.7 1024.1,817.8 1025.6,816.3 1026.7,815.7 1027.7,812.6 1028.9,812.2 1030.2,809.1 1032.1,810.5 1034.1,808.9 1035.9,809.8 1037.4,811.6 1038.5,813.5 1039.1,816.2 1039.6,818.6 1040.2,821.2 1040.8,822.6 1042.3,820.5 1043.4,820.9 1044.2,818.2 1045.0,817.8 1046.0,813.5 1047.5,814.4 1048.4,818.3 1049.1,817.6 1050.2,820.6 1051.7,817.9 1052.8,819.1 1053.8,816.8 1054.7,814.8 1055.8,811.5 1057.5,811.2 1058.4,815.4 1059.1,814.5 1059.8,818.4 1060.8,818.8 1062.7,820.6 1064.7,817.9 1066.5,820.0 1068.1,816.6 1069.5,817.4 1071.3,815.1 1072.9,817.4 1074.3,816.8 1075.9,819.9 1077.8,817.6 1079.4,819.3 1080.9,816.0 1082.3,816.2 1083.9,812.9 1085.7,814.3 1087.3,813.5 1088.3,816.5 1089.1,817.1 1089.9,820.8 1090.6,820.9 1091.4,824.2 1092.2,824.7 1093.6,824.6 1094.7,824.0 1095.2,823.0 1095.7,819.8 1096.1,819.5 1096.6,815.4 1097.7,815.5 1099.2,816.9 1100.5,817.1 1102.3,818.9 1104.0,816.6 1105.9,818.3 1107.1,817.6 1108.0,821.7 1108.7,823.7 1109.3,822.7 1109.9,827.0 1110.6,826.8 1110.8,828.9" stroke="#0000ff"/>
<path d="M124.5,697.6 126.0,697.3 127.6,697.9 129.0,695.2 130.6,693.6 132.4,694.9 134.3,691.8 136.2,694.8 137.7,694.0 138.9,695.7 140.1,699.3 141.4,698.6 143.0,701.5 144.9,699.1 146.2,700.0 147.3,698.3 148.4,696.2 149.5,694.7 151.1,694.0 153.1,692.3 154.9,695.0 156.8,693.0 158.7,694.2 160.2,691.3 161.5,691.5 162.8,690.1 164.1,688.8 165.5,687.2 167.3,684.0 169.0,684.7 170.2,688.7 171.1,688.1 171.8,691.9 172.5,691.9 173.2,694.6 173.9,696.1 175.0,699.2 176.7,699.9 178.0,696.2 179.1,696.6 180.3,692.6 181.8,691.8 183.7,691.4 185.7,692.9 187.6,692.2 188.8,695.3 189.6,695.8 190.3,697.3 191.2,698.5 192.7,701.8 194.3,698.8 195.5,699.1 196.5,695.2 197.6,695.6 198.7,692.6 199.9,693.0 201.6,690.1 203.0,693.1 203.9,693.9 204.7,697.0 205.8,696.7 207.3,698.2 208.3,694.4 209.2,694.0 210.9,691.9 212.5,693.4 214.0,696.3 215.6,695.9 217.4,698.0 219.4,697.2 221.3,699.2 223.3,697.3 225.3,698.4 227.0,695.6 228.5,695.9 230.1,693.2 231.9,693.9 233.7,691.3 235.6,693.0 237.5,690.6 239.4,691.9 241.4,689.7 243.3,690.7 245.3,688.5 247.3,689.3 248.7,692.2 249.9,691.5 251.7,692.9 253.3,690.2 254.7,690.5 256.1,687.7 257.4,688.2 258.9,685.3 260.4,683.1 262.2,682.8 264.0,682.7 265.6,686.4 267.2,687.4 269.1,686.5 271.0,687.9 273.0,686.7 275.0,688.8 277.0,686.3 279.0,688.3 280.9,687.7 282.9,686.0 284.6,687.6 285.8,687.8 286.7,691.2 287.6,693.2 288.5,693.6 289.8,694.8 291.5,694.5 292.6,694.3 293.6,692.2 294.5,691.2 295.6,689.5 297.4,686.8 299.0,688.5 300.5,690.7 302.3,690.1 303.9,690.8 305.1,687.8 306.2,686.8 307.3,683.5 308.6,682.9 310.4,683.3 312.1,683.1 313.5,686.0 314.9,686.1 316.6,688.0 318.5,686.3 320.2,686.5 321.7,684.3 323.4,684.9 325.3,682.6 327.1,685.2 328.7,685.0 330.5,687.3 332.4,686.0 334.4,687.2 336.2,685.1 337.3,684.5 337.8,683.1 338.1,678.8 338.6,677.5 339.9,677.1 341.7,678.5 343.2,679.9 344.6,679.3 345.8,682.2 347.0,683.2 348.1,686.1 349.6,686.1 351.0,686.8 351.6,683.5 352.3,681.5 353.7,679.7 355.3,680.5 356.8,684.1 358.1,683.5 359.5,687.0 361.0,686.3 362.9,687.6 364.5,687.6 365.7,685.7 366.9,683.1 368.0,683.0 369.0,679.6 370.0,679.1 371.3,676.7 372.5,679.5 373.1,679.2 373.5,683.1 374.0,685.0 374.5,685.3 375.4,688.9 377.1,686.8 378.4,686.8 379.5,683.3 380.8,682.9 382.4,680.8 384.1,680.8 386.0,678.6 387.9,679.0 389.6,681.1 391.0,682.7 392.3,683.0 393.4,685.8 394.2,686.5 395.2,689.2 396.4,688.7 396.7,687.0 396.9,683.7 397.1,681.3 397.4,681.1 397.9,677.4 398.8,677.6 400.4,676.2 402.2,674.2 404.1,675.1 406.1,674.7 407.9,672.4 409.6,672.2 411.3,669.7 413.1,669.5 415.1,669.2 417.0,671.4 418.8,671.0 420.7,671.1 422.4,671.4 423.7,668.9 424.8,668.1 425.9,665.3 427.0,665.2 428.4,662.0 430.3,662.9 432.0,663.0 433.7,663.4 435.6,665.9 437.4,663.1 438.9,662.3 440.3,662.2 441.7,660.4 443.1,659.7 444.7,656.5 446.3,656.8 448.2,654.6 450.2,655.7 452.1,653.9 454.1,654.7 456.0,654.5 457.5,651.3 458.9,651.5 460.7,649.6 462.7,651.7 464.5,651.1 466.5,652.1 468.3,650.1 469.8,650.7 471.3,648.0 472.7,648.0 474.0,644.9 475.4,645.0 476.8,642.1 478.4,642.1 480.2,641.1 482.2,640.8 484.1,639.7 485.6,639.5 486.9,636.9 488.3,636.2 489.7,633.6 491.2,633.6 492.9,631.6 494.9,632.2 496.8,631.1 498.6,630.9 500.4,629.0 502.2,629.7 503.9,631.6 505.3,629.7 506.1,627.8 506.8,626.8 507.4,624.1 508.2,622.7 509.6,621.6 511.5,621.3 513.3,622.4 515.2,622.0 516.9,621.2 518.3,619.4 519.9,618.2 521.8,617.9 523.8,617.6 525.8,617.3 527.7,616.8 529.6,616.1 531.4,615.3 533.2,614.3 534.7,613.1 536.1,611.6 537.3,610.1 538.6,608.5 539.9,607.0 541.3,605.6 542.9,604.4 544.5,603.2 546.2,602.1 547.8,600.9 549.1,599.5 550.1,597.7 551.1,596.0 552.1,594.3 553.1,592.5 554.1,590.8 555.1,589.1 556.1,587.3 557.2,585.6 558.2,583.9 559.2,582.2 560.2,580.5 561.3,578.8 562.3,577.0 563.3,575.3 564.3,573.6 565.2,571.8 566.1,570.0 567.1,568.3 568.0,566.5 569.0,564.8 570.0,563.0 571.0,561.3 572.0,559.5 572.8,557.7 573.7,555.9 574.5,554.1 575.3,552.3 576.1,550.4 576.8,548.6 577.6,546.7 578.3,544.9 579.0,543.0 579.7,541.1 580.3,539.2 581.0,537.3 581.6,535.4 582.2,533.5 582.7,531.6 583.2,529.6 583.7,527.7 584.2,525.8 584.7,523.8 585.1,521.9 585.5,519.9 585.9,517.9 586.3,516.0 586.7,514.0 587.0,512.1 587.4,510.1 587.8,508.1 588.2,506.2 588.6,504.2 589.0,502.2 589.5,500.3 589.9,498.4 590.4,496.4 590.9,494.5 591.4,492.5 591.8,490.6 592.3,488.7 592.8,486.7 593.3,484.8 593.8,482.8 594.3,480.9 594.8,479.0 595.3,477.0 595.8,475.1 596.2,473.1 596.7,471.2 597.2,469.2 597.6,467.3 598.1,465.4 598.6,463.4 599.1,461.5 599.6,459.6 600.2,457.6 600.7,455.7 601.3,453.8 601.9,451.9 602.5,450.0 603.1,448.1 603.7,446.2 604.3,444.3 605.0,442.4 605.7,440.5 606.4,438.6 607.1,436.8 607.8,434.9 608.6,433.1 609.4,431.2 610.3,429.4 611.2,427.6 612.1,425.9 613.2,424.2 614.4,422.6 615.7,421.0 617.0,419.6 618.4,418.2 620.0,417.0 621.8,416.0 623.7,415.6 625.7,415.8 627.5,416.6 629.3,417.6 631.0,418.7 632.6,419.9 634.1,421.2 635.5,422.6 636.8,424.1 638.2,425.5 639.5,427.0 640.9,428.4 642.4,429.8 643.8,431.2 645.3,432.6 646.7,434.0 648.1,435.4 649.4,436.9 650.7,438.4 652.0,440.0 653.2,441.6 654.4,443.2 655.6,444.8 656.8,446.4 658.1,447.9 659.5,449.4 660.9,450.8 662.4,452.1 664.3,452.7 666.0,451.7 667.2,450.1 668.2,448.4 669.2,446.7 670.0,444.9 670.8,443.0 671.4,441.1 672.0,439.2 672.6,437.3 673.0,435.3 673.4,433.4 673.7,431.4 674.1,429.4 674.4,427.5 674.8,425.5 675.2,423.5 675.5,421.6 675.9,419.6 676.2,417.6 676.5,415.7 676.8,413.7 677.1,411.7 677.3,409.7 677.6,407.7 677.8,405.7 678.0,403.8 678.2,401.8 678.4,399.8 678.6,397.8 678.9,395.8 679.1,393.8 679.3,391.8 679.5,389.8 679.7,387.8 679.9,385.8 680.0,383.9 680.1,381.9 680.3,379.9 680.4,377.9 680.5,375.9 680.6,373.9 680.7,371.9 680.8,369.9 680.9,367.9 681.0,365.9 681.1,363.9 681.2,361.9 681.2,359.9 681.3,357.9 681.4,355.9 681.5,353.9 681.6,351.9 681.7,349.9 681.8,347.9 681.9,345.9 682.0,343.9 682.1,341.9 682.2,339.9 682.3,337.9 682.4,335.9 682.5,333.9 682.7,331.9 682.8,329.9 682.9,327.9 683.0,325.9 683.1,323.9 683.2,321.9 683.3,319.9 683.4,317.9 683.5,315.9 683.6,313.9 683.7,311.9 683.8,309.9 683.9,308.0 684.0,306.0 684.0,304.0 684.1,302.0 684.2,300.0 684.3,298.0 684.4,296.0 684.5,294.0 684.6,292.0 684.7,290.0 684.8,288.0 684.9,286.0 685.0,284.0 685.1,282.0 685.2,280.0 685.3,278.0 685.4,276.0 685.5,274.0 685.6,272.0 685.7,270.0 685.8,268.0 685.9,266.0 686.0,264.0 686.1,262.0 686.2,260.0 686.3,258.0 686.4,256.0 686.5,254.0 686.6,252.0 686.7,250.0 686.8,248.0 686.9,246.0 687.0,244.0 687.2,242.0 687.3,240.0 687.5,238.0 687.7,236.1 688.8,237.4 689.6,239.2 690.3,241.1 690.8,243.0 691.2,245.0 691.7,246.9 692.2,248.9 692.7,250.8 693.2,252.7 693.7,254.7 694.3,256.6 694.9,258.5 695.8,260.3 697.2,261.7 698.9,262.7 700.8,263.0 702.7,263.4 703.9,265.0 704.7,266.9 705.2,268.8 705.6,270.7 706.0,272.7 706.2,274.7 706.4,276.7 706.6,278.7 706.8,280.7 706.9,282.7 707.1,284.7 707.2,286.7 707.4,288.6 707.5,290.6 707.7,292.6 707.8,294.6 708.0,296.6 708.1,298.6 708.2,300.6 708.4,302.6 708.5,304.6 708.7,306.6 708.8,308.6 708.9,310.6 709.1,312.6 709.2,314.6 709.3,316.6 709.5,318.6 709.6,320.6 709.7,322.6 709.8,324.6 709.9,326.6 710.0,328.6 710.1,330.6 710.2,332.6 710.3,334.6 710.4,336.5 710.5,338.5 710.6,340.5 710.7,342.5 710.7,344.5 710.8,346.5 710.9,348.5 711.0,350.5 711.1,352.5 711.2,354.5 711.2,356.5 711.3,358.5 711.4,360.5 711.4,362.5 711.5,364.5 711.6,366.5 711.7,368.5 711.7,370.5 711.8,372.5 711.9,374.5 712.0,376.5 712.1,378.5 712.2,380.5 712.3,382.5 712.4,384.5 712.6,386.5 712.7,388.5 712.8,390.5 713.0,392.5 713.2,394.5 713.4,396.5 713.6,398.5 713.8,400.4 714.0,402.4 714.2,404.4 714.4,406.4 714.6,408.4 714.8,410.4 715.0,412.4 715.1,414.4 715.2,416.4 715.4,418.4 715.5,420.4 715.6,422.4 715.7,424.4 715.9,426.4 716.0,428.4 716.1,430.3 716.3,432.3 716.5,434.3 716.6,436.3 716.8,438.3 716.9,440.3 717.1,442.3 717.2,444.3 717.4,446.3 717.5,448.3 717.6,450.3 717.8,452.3 717.9,454.3 718.0,456.3 718.1,458.3 718.3,460.3 718.4,462.3 718.6,464.3 718.7,466.3 718.8,468.3 719.0,470.2 719.1,472.2 719.3,474.2 719.4,476.2 719.6,478.2 719.8,480.2 720.0,482.2 720.2,484.2 720.4,486.2 720.6,488.2 720.9,490.2 721.2,492.1 721.4,494.1 721.7,496.1 722.0,498.1 722.3,500.0 722.6,502.0 723.0,504.0 723.3,506.0 723.6,507.9 723.9,509.9 724.2,511.9 724.6,513.9 724.9,515.8 725.2,517.8 725.6,519.8 725.9,521.7 726.3,523.7 726.7,525.7 727.1,527.6 727.5,529.6 727.8,531.6 728.3,533.5 728.7,535.5 729.2,537.4 729.6,539.4 730.2,541.3 730.7,543.2 731.3,545.1 731.9,547.0 732.5,548.9 733.1,550.9 733.6,552.8 734.2,554.7 734.8,556.6 735.4,558.5 736.0,560.4 736.6,562.3 737.2,564.2 737.8,566.1 738.5,568.0 739.3,569.9 740.0,571.7 740.8,573.6 741.6,575.4 742.2,577.3 742.9,579.2 743.5,581.1 744.1,583.0 744.8,584.9 745.7,586.6 746.8,588.3 747.9,590.0 748.8,591.8 749.7,593.6 750.6,595.4 751.5,597.2 752.4,598.9 753.4,600.6 754.5,602.3 755.7,603.9 757.0,605.4 758.4,606.8 759.9,608.2 761.3,609.6 762.8,611.0 764.2,612.4 765.5,614.0 766.4,615.7 767.2,617.6 768.1,619.3 769.3,620.9 770.7,622.3 772.2,623.7 774.0,624.3 776.0,624.9 777.8,623.6 779.1,624.7 779.9,627.2 781.0,628.4 782.4,630.1 783.9,631.1 785.6,632.9 787.3,633.0 789.0,634.8 790.6,634.9 792.2,637.2 793.6,639.0 794.7,639.4 795.7,642.4 797.1,642.8 799.0,644.6 801.0,643.1 802.9,645.0 804.3,645.2 805.3,647.9 806.1,649.0 806.9,651.6 807.8,652.3 809.0,655.7 810.8,653.8 812.2,653.4 814.0,653.2 815.4,653.4 816.7,656.6 818.0,656.8 819.3,659.8 820.8,658.9 822.4,662.5 824.0,661.9 825.7,664.7 827.4,663.9 829.2,666.4 831.2,666.6 833.1,664.8 835.0,665.0 836.9,664.4 838.7,666.9 840.3,665.5 841.9,669.3 843.4,670.7 844.9,670.0 846.4,673.4 847.8,672.8 849.4,674.2 851.1,676.4 853.0,675.0 854.9,677.9 856.9,675.9 858.7,679.3 860.4,678.3 862.0,681.5 863.6,680.8 865.5,683.1 867.3,680.0 868.6,680.5 869.8,676.9 871.0,677.3 872.6,676.6 873.8,676.4 874.6,677.7 876.0,678.1 877.0,679.2 877.9,675.3 878.8,674.6 880.4,671.9 881.8,675.7 882.8,676.0 883.9,678.7 885.2,679.1 887.1,681.1 889.0,679.0 891.0,679.3 892.3,682.1 893.5,684.0 894.6,685.6 895.9,685.5 897.6,687.0 898.7,683.6 899.8,681.7 900.8,680.1 902.5,680.9 904.0,682.7 905.4,681.7 906.8,683.7 908.3,686.7 910.0,685.5 912.0,688.3 913.8,685.3 915.6,686.6 917.3,683.6 918.9,683.5 920.4,680.5 922.3,682.4 923.9,681.8 925.2,685.5 926.5,684.6 927.8,687.6 929.4,686.5 931.2,688.8 932.8,687.2 934.6,686.8 935.7,685.9 936.4,687.8 937.0,692.5 937.6,691.5 938.4,694.3 939.9,695.4 941.6,696.2 943.1,692.6 944.5,692.6 946.3,690.6 948.2,691.6 950.2,689.2 952.2,690.8 954.2,689.5 956.2,691.0 958.1,692.3 960.0,693.2 961.9,691.9 963.2,688.9 964.2,688.9 965.2,685.4 966.6,684.2 968.2,687.1 969.1,688.1 969.9,687.9 970.6,691.6 971.5,691.9 972.7,694.9 974.5,693.3 976.2,695.2 977.9,694.2 979.8,692.2 980.9,695.2 981.8,695.8 982.6,698.4 983.5,699.1 984.8,700.4 986.7,701.7 988.4,699.2 990.0,700.6 991.6,698.5 993.2,695.5 994.9,694.7 996.6,693.5 998.3,694.2 1000.2,692.9 1001.4,694.1 1002.3,698.5 1003.2,700.5 1004.5,699.8 1005.8,702.7 1007.2,702.4 1008.8,703.8 1010.7,705.6 1011.6,701.8 1012.0,702.7 1012.3,698.4 1012.6,698.0 1012.9,696.6 1013.2,694.3 1013.7,690.3 1015.0,691.5 1016.1,691.1 1016.9,693.7 1017.7,696.7 1018.6,696.3 1019.9,698.0 1021.4,699.6 1022.4,695.5 1023.3,693.9 1024.7,694.7 1026.4,692.7 1028.1,690.3 1030.0,691.0 1031.9,691.0 1033.6,691.1 1035.2,693.9 1036.8,692.7 1038.5,696.4 1040.4,695.0 1042.3,695.8 1044.2,697.9 1045.9,697.0 1047.4,700.0 1048.9,701.1 1050.7,702.0 1052.2,701.6 1053.1,698.1 1053.8,698.1 1054.9,694.6 1056.8,693.5 1058.4,697.5 1060.0,696.5 1061.5,699.4 1063.1,700.5 1064.6,700.5 1066.2,703.0 1067.9,703.8 1069.8,702.2 1071.8,701.6 1073.6,703.1 1075.4,702.5 1077.4,700.6 1079.4,702.0 1081.3,699.6 1082.9,700.6 1083.8,697.0 1084.6,697.5 1085.3,693.1 1086.4,691.2 1087.7,695.3 1088.4,696.2 1088.9,697.0 1089.4,701.1 1089.9,700.0 1090.5,703.7 1091.6,706.3 1093.3,705.5 1094.5,701.5 1096.0,702.4 1097.6,699.7 1099.2,699.7 1100.8,697.0 1102.6,697.7 1104.6,695.1 1106.4,696.1 1107.6,698.4 1108.5,700.2 1109.3,703.6 1110.0,703.8 1110.8,707.1 1111.0,707.9" stroke="#860000"/>
</g>
<g stroke-width="5.5" stroke-linecap="round">
<line x1="900.5" y1="158.2" x2="986.5" y2="158.2" stroke="#000"/>
<line x1="900.5" y1="205.2" x2="986.5" y2="205.2" stroke="#0000ff"/>
<line x1="900.5" y1="252.5" x2="986.5" y2="252.5" stroke="#860000"/>
</g>
<g font-size="38" letter-spacing="0.3">
<text class="leg" x="997.20" y="170.50"><tspan visibility="hidden">1</tspan>4(<tspan visibility="hidden">1</tspan>5) nm</text>
<path d="M515,0 L515,1237 L197,1010 L197,1180 L530,1409 L696,1409 L696,0 Z" transform="translate(997.20,170.50) scale(0.01855,-0.01855)"/>
<path d="M515,0 L515,1237 L197,1010 L197,1180 L530,1409 L696,1409 L696,0 Z" transform="translate(1053.02,170.50) scale(0.01855,-0.01855)"/>
<text class="leg" x="997.20" y="217.50">2<tspan visibility="hidden">1</tspan>(24) nm</text>
<path d="M515,0 L515,1237 L197,1010 L197,1180 L530,1409 L696,1409 L696,0 Z" transform="translate(1018.63,217.50) scale(0.01855,-0.01855)"/>
<text class="leg" x="997.20" y="265.00"><tspan visibility="hidden">1</tspan>32(<tspan visibility="hidden">1</tspan>40) nm</text>
<path d="M515,0 L515,1237 L197,1010 L197,1180 L530,1409 L696,1409 L696,0 Z" transform="translate(997.20,265.00) scale(0.01855,-0.01855)"/>
<path d="M515,0 L515,1237 L197,1010 L197,1180 L530,1409 L696,1409 L696,0 Z" transform="translate(1074.46,265.00) scale(0.01855,-0.01855)"/>
</g>
</svg>
</body></html>
